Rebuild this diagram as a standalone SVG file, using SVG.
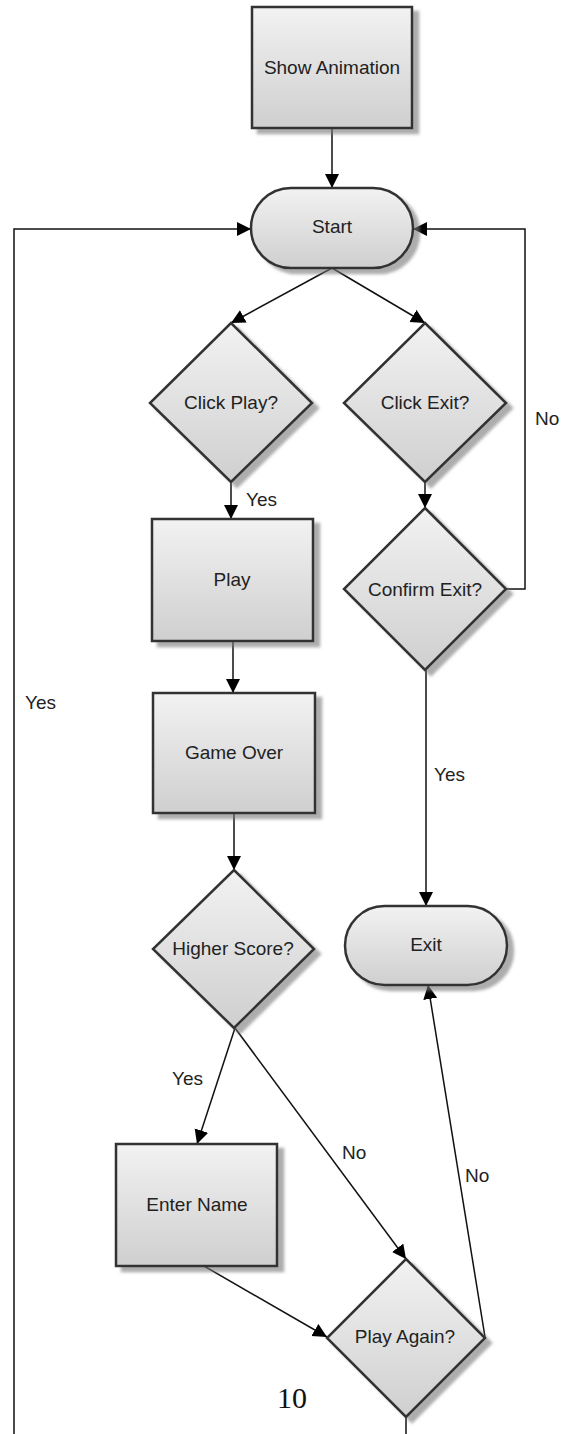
<svg xmlns="http://www.w3.org/2000/svg" width="563" height="1434" viewBox="0 0 563 1434">
<defs>
<linearGradient id="g" x1="0" y1="0" x2="0" y2="1">
<stop offset="0" stop-color="#f2f2f2"/>
<stop offset="1" stop-color="#cfcfcf"/>
</linearGradient>
<filter id="sh" x="-10%" y="-10%" width="130%" height="130%">
<feDropShadow dx="6" dy="5" stdDeviation="1.5" flood-color="#777" flood-opacity="0.6"/>
</filter>
<marker id="ah" markerUnits="userSpaceOnUse" markerWidth="15" markerHeight="15" refX="14" refY="7" orient="auto">
<path d="M0,0 L14,7 L0,14 z" fill="#000"/>
</marker>
<style>
.n{fill:url(#g);stroke:#333;stroke-width:2.5;filter:url(#sh)}
.t{font-family:"Liberation Sans",Arial,sans-serif;font-size:19px;fill:#222;text-anchor:middle}
.l{font-family:"Liberation Sans",Arial,sans-serif;font-size:19px;fill:#222}
.c{fill:none;stroke:#111;stroke-width:1.5}
.ca{fill:none;stroke:#111;stroke-width:1.5;marker-end:url(#ah)}
</style>
</defs>
<rect width="563" height="1434" fill="#fff"/>
<g id="connectors">
<path class="ca" d="M332,128 L332,188"/>
<path class="ca" d="M332,268 L231,323"/>
<path class="ca" d="M332,268 L425,323"/>
<path class="ca" d="M231,482 L231,519"/>
<path class="ca" d="M425,482 L425,508"/>
<path class="ca" d="M506,589 L525,589 L525,229 L413,229"/>
<path class="ca" d="M426,670 L426,906"/>
<path class="ca" d="M233,641 L233,693"/>
<path class="ca" d="M234,813 L234,870"/>
<path class="ca" d="M235,1028 L197,1144"/>
<path class="ca" d="M235,1028 L406,1259"/>
<path class="ca" d="M197,1262 L327,1337"/>
<path class="ca" d="M485,1337 L428,985"/>
<path class="c" d="M406,1417 L406,1434"/>
<path class="ca" d="M14,1434 L14,229 L251,229"/>
<text class="l" x="246" y="506">Yes</text>
<text class="l" x="535" y="425">No</text>
<text class="l" x="434" y="781">Yes</text>
<text class="l" x="25" y="709">Yes</text>
<text class="l" x="172" y="1085">Yes</text>
<text class="l" x="342" y="1159">No</text>
<text class="l" x="465" y="1182">No</text>
</g>
<g id="show-animation">
<rect class="n" x="252" y="7" width="160" height="121"/>
<text class="t" x="332" y="74">Show Animation</text>
</g>
<g id="start">
<rect class="n" x="251" y="188" width="162" height="80" rx="40" ry="40"/>
<text class="t" x="332" y="233">Start</text>
</g>
<g id="click-play">
<path class="n" d="M231,323 L312,403 L231,482 L150,403 Z"/>
<text class="t" x="231" y="409">Click Play?</text>
</g>
<g id="click-exit">
<path class="n" d="M425,323 L506,403 L425,482 L344,403 Z"/>
<text class="t" x="425" y="409">Click Exit?</text>
</g>
<g id="confirm-exit">
<path class="n" d="M425,508 L506,589 L425,670 L344,589 Z"/>
<text class="t" x="425" y="596">Confirm Exit?</text>
</g>
<g id="play">
<rect class="n" x="152" y="519" width="161" height="122"/>
<text class="t" x="232" y="586">Play</text>
</g>
<g id="game-over">
<rect class="n" x="153" y="693" width="162" height="120"/>
<text class="t" x="234" y="759">Game Over</text>
</g>
<g id="higher-score">
<path class="n" d="M234,870 L314,949 L234,1028 L153,949 Z"/>
<text class="t" x="233" y="955">Higher Score?</text>
</g>
<g id="exit">
<rect class="n" x="345" y="906" width="162" height="79" rx="39.5" ry="39.5"/>
<text class="t" x="426" y="951">Exit</text>
</g>
<g id="enter-name">
<rect class="n" x="116" y="1144" width="161" height="122"/>
<text class="t" x="197" y="1211">Enter Name</text>
</g>
<g id="play-again">
<path class="n" d="M406,1259 L485,1338 L406,1417 L327,1338 Z"/>
<text class="t" x="405" y="1343">Play Again?</text>
</g>
<text x="292" y="1408" font-family="'Liberation Serif','Times New Roman',serif" font-size="30" fill="#111" text-anchor="middle">10</text>
</svg>
